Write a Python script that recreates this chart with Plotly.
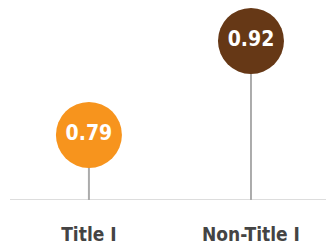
import plotly.graph_objects as go

categories = ["Title I", "Non-Title I"]
values = [0.79, 0.92]
colors = ["#F7941D", "#663816"]
value_labels = ["0.79", "0.92"]

xs = list(range(len(categories)))
base = 0.7

fig = go.Figure()
for i, (x, v) in enumerate(zip(xs, values)):
    fig.add_trace(go.Scatter(x=[x, x], y=[base, v], mode="lines",
                             line=dict(color="#ababab", width=2),
                             hoverinfo="skip", showlegend=False))
fig.add_trace(go.Scatter(
    x=xs, y=values, mode="markers+text",
    marker=dict(size=66, color=colors, line=dict(width=0)),
    text=value_labels, textposition="middle center",
    textfont=dict(family="DejaVu Sans Condensed", size=21, color="white", weight="bold"),
    showlegend=False, hoverinfo="skip", cliponaxis=False))

fig.update_layout(
    width=326, height=252,
    margin=dict(l=10, r=0, t=0, b=52),
    paper_bgcolor="white", plot_bgcolor="white",
    showlegend=False,
    xaxis=dict(range=[-0.487, 1.463], tickvals=xs, ticktext=categories,
               showgrid=False, zeroline=False, showline=False, ticks="",
               tickfont=dict(family="DejaVu Sans Condensed", size=19, color="#444444", weight="bold"),
               ticklabelstandoff=21),
    yaxis=dict(range=[base, 0.9766], visible=False, showgrid=False, zeroline=False),
    shapes=[dict(type="line", xref="paper", yref="y", x0=0, x1=1, y0=base, y1=base,
                 line=dict(color="#dddddd", width=2), layer="below")],
)

fig.write_html("out.html", config={"displayModeBar": False},
               post_script="document.body.style.margin='0';")
